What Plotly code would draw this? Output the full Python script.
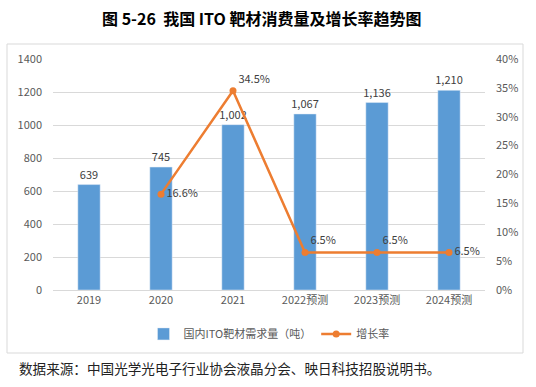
import plotly.graph_objects as go

categories = ["2019", "2020", "2021", "2022预测", "2023预测", "2024预测"]
demand = [639, 745, 1002, 1067, 1136, 1210]
growth_x = ["2020", "2021", "2022预测", "2023预测", "2024预测"]
growth = [0.166, 0.345, 0.065, 0.065, 0.065]
growth_pos = ["middle right", "top right", "top right", "top right", "middle right"]

title = "图 5-26  我国 ITO 靶材消费量及增长率趋势图"
source = "数据来源：中国光学光电子行业协会液晶分会、映日科技招股说明书。"

FONT = "Noto Sans CJK SC"
GRAY = "#595959"

fig = go.Figure()
fig.add_trace(go.Bar(
    x=categories, y=demand, name="国内ITO靶材需求量（吨）",
    marker=dict(color="#5B9BD5"),
    texttemplate="%{y:,}", textposition="outside", constraintext="none",
    textfont=dict(color="#404040", size=11, family=FONT),
    cliponaxis=False,
))
fig.add_trace(go.Scatter(
    x=growth_x, y=growth, name="增长率", yaxis="y2",
    mode="lines+markers+text",
    line=dict(color="#ED7D31", width=2.5),
    marker=dict(color="#ED7D31", size=7),
    text=[f"{v*100:.1f}%" for v in growth],
    textposition=growth_pos,
    textfont=dict(color="#404040", size=11, family=FONT),
    cliponaxis=False,
))

fig.update_layout(
    width=536, height=387,
    margin=dict(l=53, r=51, t=59, b=97),
    paper_bgcolor="white", plot_bgcolor="white",
    font=dict(family=FONT, color=GRAY, size=11),
    bargap=0.69,
    showlegend=True,
    legend=dict(orientation="h", x=0.5, xanchor="center", y=-0.19, yanchor="middle",
                font=dict(size=11, color=GRAY), traceorder="normal"),
    xaxis=dict(type="category", categoryorder="array", categoryarray=categories,
               showgrid=False, showline=True, linecolor="#D9D9D9", ticks="",
               tickfont=dict(size=11, color=GRAY)),
    yaxis=dict(range=[0, 1400], dtick=200, showgrid=True, gridcolor="#D9D9D9",
               zeroline=False, showline=False, ticklabelstandoff=10,
               tickfont=dict(size=11, color=GRAY)),
    yaxis2=dict(range=[0, 0.4], dtick=0.05, tickformat=".0%", overlaying="y", side="right",
                showgrid=False, zeroline=False, showline=False, ticklabelstandoff=10,
                tickfont=dict(size=11, color=GRAY)),
)

fig.add_shape(type="rect", xref="paper", yref="paper",
              x0=-46/432, x1=(523-53)/432, y0=(290-353)/231, y1=(290-44)/231,
              line=dict(color="#D9D9D9", width=1), fillcolor="rgba(0,0,0,0)", layer="below")

fig.add_annotation(text="<b>" + title + "</b>", xref="paper", yref="paper",
                   x=(262-53)/432, y=(290-18)/231, xanchor="center", yanchor="middle",
                   showarrow=False, font=dict(size=16, color="black", family=FONT))
fig.add_annotation(text=source, xref="paper", yref="paper",
                   x=(17-53)/432, y=(290-368)/231, xanchor="left", yanchor="middle",
                   showarrow=False, font=dict(size=13.6, color="#222222", family=FONT))

fig.write_html("out.html", config={"displayModeBar": False},
               post_script="document.body.style.margin='0';")
